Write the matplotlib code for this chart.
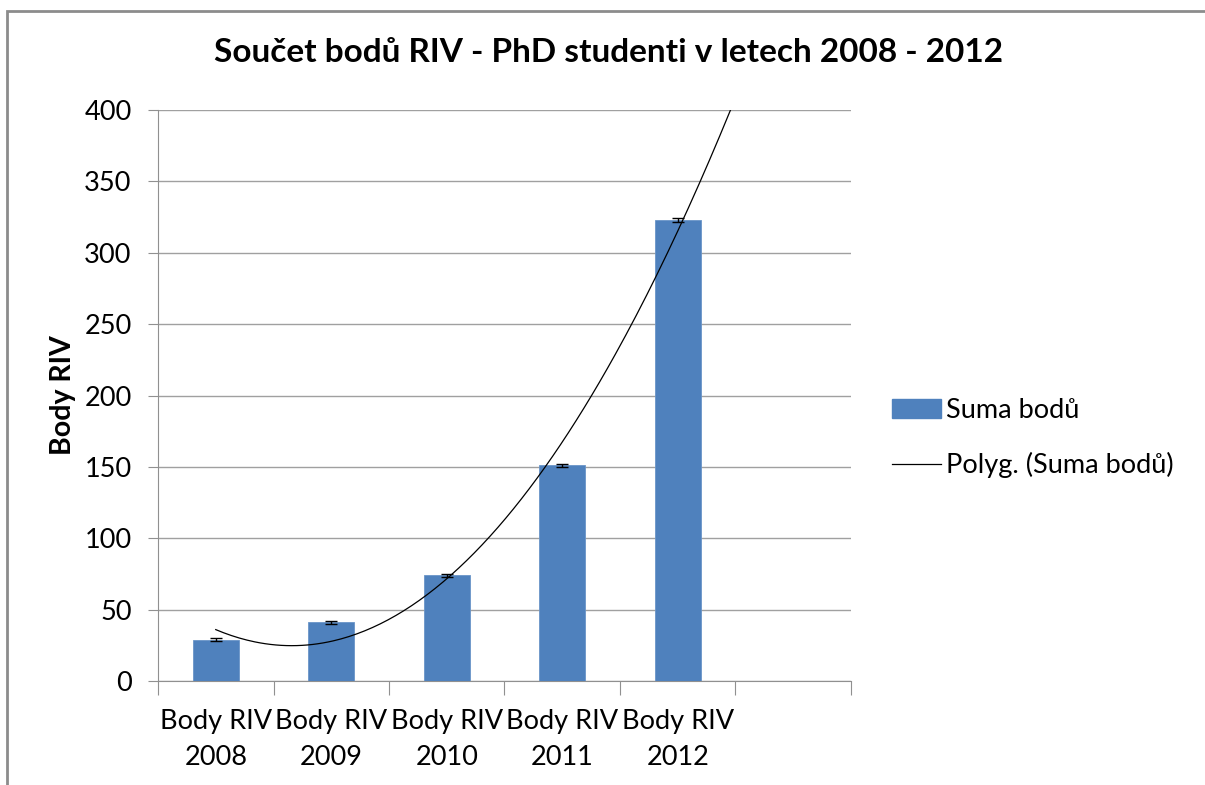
import numpy as np
import matplotlib.pyplot as plt
from matplotlib.patches import Patch
from matplotlib.lines import Line2D

plt.rcParams['font.family'] = ['Lato', 'DejaVu Sans']

# data
categories = ['Body RIV\n2008', 'Body RIV\n2009', 'Body RIV\n2010', 'Body RIV\n2011', 'Body RIV\n2012', '']
values = [29, 41, 74, 151, 323]
errors = [0.8, 0.8, 0.8, 0.8, 1.5]
yticks = [0, 50, 100, 150, 200, 250, 300, 350, 400]

fig = plt.figure(figsize=(12.05, 7.85), dpi=100)
ax = fig.add_axes([158/1205, 1-681/785, (851-158)/1205, (681-110)/785])

x = np.arange(len(values))
ax.bar(x, values, width=0.4, color='#4F81BD', edgecolor='#6A95C8', linewidth=0.6, zorder=3)
ax.errorbar(x, values, yerr=errors, fmt='none', ecolor='black', elinewidth=1,
            capsize=4, capthick=1, zorder=4)

# polynomial (2nd order) trendline, extended half a period forward
coef = np.polyfit(x, values, 2)
xt = np.linspace(0, 4.5, 200)
ax.plot(xt, np.polyval(coef, xt), color='black', lw=0.9, zorder=5)

ax.set_xlim(-0.5, 5.5)
ax.set_ylim(0, 400)
ax.set_yticks(yticks)
ax.yaxis.grid(True, color='#a0a0a0', lw=1)
ax.set_axisbelow(True)

ax.set_xticks(np.arange(-0.5, 6, 1))
ax.set_xticklabels([])
ax.set_xticks(np.arange(len(categories)), minor=True)
ax.set_xticklabels(categories, minor=True, fontsize=19.5, linespacing=1.55)
ax.tick_params(axis='x', which='major', length=10, color='#909090', direction='out')
ax.tick_params(axis='x', which='minor', length=0, pad=20)
ax.tick_params(axis='y', length=7, color='#909090', labelsize=19.5, pad=12)

for s in ['top', 'right']:
    ax.spines[s].set_visible(False)
for s in ['left', 'bottom']:
    ax.spines[s].set_color('#909090')

ax.set_ylabel('Body RIV', fontsize=20.5, fontweight='bold', labelpad=6)
fig.text(0.505, 1-52/785, 'Součet bodů RIV - PhD studenti v letech 2008 - 2012',
         ha='center', va='center', fontsize=24, fontweight='bold')

handles = [Patch(facecolor='#4F81BD', edgecolor='#4F81BD'),
           Line2D([0], [0], color='black', lw=0.9)]
fig.legend(handles, ['Suma bodů', 'Polyg. (Suma bodů)'], loc='center left',
           bbox_to_anchor=(892/1205, 1-438/785), frameon=False, fontsize=19.5,
           borderpad=0, borderaxespad=0, handlelength=1.8, handleheight=0.7,
           labelspacing=1.1, handletextpad=0.2)

# chart border
fig.add_artist(plt.Rectangle((7/1205, -0.1), 1.2, 1 - 11/785 + 0.1, transform=fig.transFigure,
                             fill=False, edgecolor='#8c8c8c', lw=2))

fig.savefig('out.png', dpi=100)
